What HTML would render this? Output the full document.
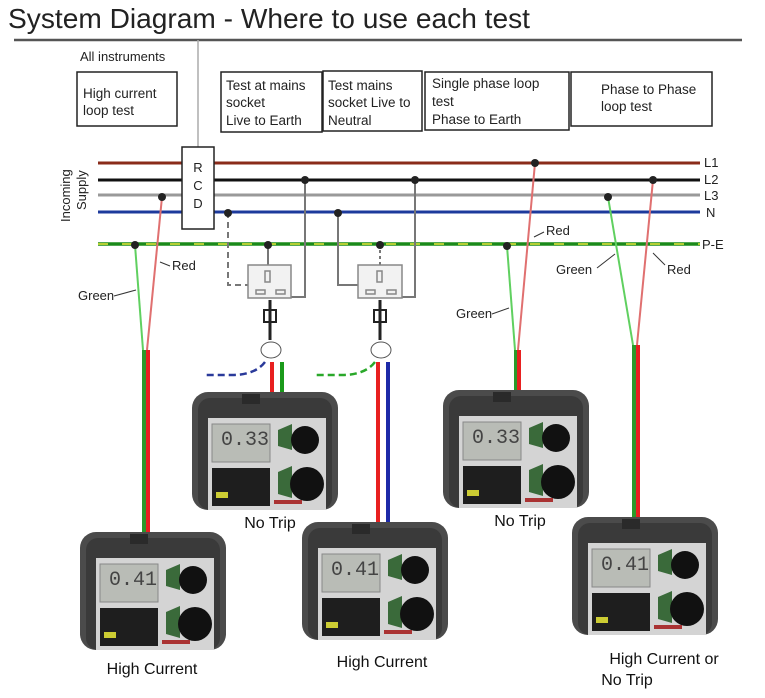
<!DOCTYPE html>
<html><head><meta charset="utf-8"><style>
html,body{margin:0;padding:0;background:#fff;}
svg{display:block;font-family:"Liberation Sans",sans-serif;}
</style></head><body>
<svg width="765" height="698" viewBox="0 0 765 698" xmlns="http://www.w3.org/2000/svg">
<defs>
<g id="dev">
 <rect x="0" y="0" width="146" height="118" rx="16" fill="#4b4b4b"/>
 <rect x="6" y="6" width="134" height="112" rx="12" fill="#3a3a3a"/>
 <rect x="16" y="26" width="118" height="92" fill="#d4d4d4"/>
 <rect x="20" y="32" width="58" height="38" fill="#b9bcb6" stroke="#888"/>
 <rect x="20" y="76" width="58" height="38" fill="#1e1e1e"/>
 <rect x="50" y="2" width="18" height="10" fill="#2a2a2a"/>
 <path d="M86 38 l14 -6 l0 26 l-14 -4z" fill="#3a6a3a"/>
 <circle cx="113" cy="48" r="14" fill="#111"/>
 <path d="M86 80 l14 -6 l0 32 l-14 -4z" fill="#3a6a3a"/>
 <circle cx="115" cy="92" r="17" fill="#111"/>
 <rect x="82" y="108" width="28" height="4" fill="#a33"/>
 <rect x="24" y="100" width="12" height="6" fill="#cc3"/>
</g>
</defs>
<text x="8" y="28" font-size="28" fill="#222" textLength="522" lengthAdjust="spacingAndGlyphs">System Diagram - Where to use each test</text>
<line x1="14" y1="40" x2="742" y2="40" stroke="#555" stroke-width="2.5"/>
<line x1="198" y1="40" x2="198" y2="148" stroke="#aaa" stroke-width="1.5"/>
<text x="80" y="61" font-size="13" fill="#222">All instruments</text>
<g fill="none" stroke="#222" stroke-width="1.5">
<rect x="77" y="72" width="100" height="54"/>
<rect x="221" y="72" width="101" height="60"/>
<rect x="323" y="71" width="99" height="60"/>
<rect x="425" y="72" width="144" height="58"/>
<rect x="571" y="72" width="141" height="54"/>
</g>
<g font-size="13.5" fill="#222">
<text x="83" y="98">High current</text><text x="83" y="115">loop test</text>
<text x="226" y="90">Test at  mains</text><text x="226" y="107">socket</text><text x="226" y="125">Live to Earth</text>
<text x="328" y="90">Test mains</text><text x="328" y="107">socket Live to</text><text x="328" y="125">Neutral</text>
<text x="432" y="88">Single phase loop</text><text x="432" y="106">test</text><text x="432" y="124">Phase to Earth</text>
<text x="601" y="94">Phase to Phase</text><text x="601" y="111">loop test</text>
</g>
<text transform="translate(70,222) rotate(-90)" font-size="13" fill="#222">Incoming</text>
<text transform="translate(86,210) rotate(-90)" font-size="13" fill="#222">Supply</text>
<line x1="98" y1="163" x2="700" y2="163" stroke="#8a2b1a" stroke-width="3"/>
<line x1="98" y1="180" x2="700" y2="180" stroke="#111" stroke-width="3"/>
<line x1="98" y1="195" x2="700" y2="195" stroke="#999" stroke-width="3"/>
<line x1="98" y1="212" x2="700" y2="212" stroke="#1d3a9c" stroke-width="3"/>
<line x1="98" y1="244" x2="700" y2="244" stroke="#1a8a1a" stroke-width="3.5"/>
<line x1="98" y1="244" x2="700" y2="244" stroke="#e8e83a" stroke-width="1.5" stroke-dasharray="10 14"/>
<g font-size="13" fill="#222">
<text x="704" y="167">L1</text><text x="704" y="184">L2</text><text x="704" y="200">L3</text><text x="706" y="217">N</text><text x="702" y="249">P-E</text>
</g>
<rect x="182" y="147" width="32" height="82" fill="#fff" stroke="#222" stroke-width="1.5"/>
<g font-size="13" fill="#222" text-anchor="middle"><text x="198" y="172">R</text><text x="198" y="190">C</text><text x="198" y="208">D</text></g>
<line x1="162" y1="197" x2="147" y2="350" stroke="#e07070" stroke-width="2"/>
<line x1="135" y1="245" x2="143" y2="350" stroke="#60d060" stroke-width="2"/>
<circle cx="162" cy="197" r="4" fill="#222"/><circle cx="135" cy="245" r="4" fill="#222"/>
<rect x="142" y="350" width="4" height="185" fill="#2a9a2a"/><rect x="146" y="350" width="4" height="185" fill="#e82020"/>
<text x="172" y="270" font-size="13" fill="#222">Red</text>
<path d="M170 266 l-10 -4" stroke="#333" fill="none"/>
<text x="78" y="300" font-size="13" fill="#222">Green</text>
<path d="M114 296 l22 -6" stroke="#333" fill="none"/>
<g stroke="#777" stroke-width="2" fill="none">
<path d="M228 212 V285 H248" stroke-dasharray="6 4"/>
<path d="M268 244 V265"/>
<path d="M305 180 V297 H291"/>
<path d="M338 212 V285 H358"/>
<path d="M380 244 V265" stroke-dasharray="3 3"/>
<path d="M415 180 V297 H402"/>
</g>
<g fill="#222"><circle cx="228" cy="213" r="4"/><circle cx="268" cy="245" r="4"/><circle cx="305" cy="180" r="4"/>
<circle cx="338" cy="213" r="4"/><circle cx="380" cy="245" r="4"/><circle cx="415" cy="180" r="4"/></g>
<g fill="#f2f2f2" stroke="#888" stroke-width="1.5">
<rect x="248" y="265" width="43" height="33"/><rect x="358" y="265" width="44" height="33"/>
<rect x="265" y="271" width="5" height="11"/><rect x="256" y="290" width="9" height="4"/><rect x="276" y="290" width="9" height="4"/>
<rect x="377" y="271" width="5" height="11"/><rect x="366" y="290" width="9" height="4"/><rect x="387" y="290" width="9" height="4"/>
</g>
<g>
<rect x="264" y="310" width="12" height="12" fill="#fff" stroke="#222" stroke-width="2"/>
<line x1="270" y1="300" x2="270" y2="340" stroke="#222" stroke-width="3"/>
<ellipse cx="271" cy="350" rx="10" ry="8" fill="#fff" stroke="#555"/>
<rect x="374" y="310" width="12" height="12" fill="#fff" stroke="#222" stroke-width="2"/>
<line x1="380" y1="300" x2="380" y2="340" stroke="#222" stroke-width="3"/>
<ellipse cx="381" cy="350" rx="10" ry="8" fill="#fff" stroke="#555"/>
</g>
<rect x="270" y="362" width="4" height="32" fill="#e82020"/><rect x="280" y="362" width="4" height="32" fill="#1a9a1a"/>
<path d="M265 362 Q255 375 232 375 H206" stroke="#2a3a9a" stroke-width="2.5" fill="none" stroke-dasharray="7 4"/>
<path d="M375 362 Q365 375 342 375 H316" stroke="#2aa82a" stroke-width="2.5" fill="none" stroke-dasharray="7 4"/>
<rect x="376" y="362" width="4" height="162" fill="#e82020"/><rect x="386" y="362" width="4" height="162" fill="#1d2aa8"/>
<line x1="535" y1="163" x2="518" y2="350" stroke="#e07070" stroke-width="2"/>
<line x1="507" y1="246" x2="515" y2="350" stroke="#60d060" stroke-width="2"/>
<circle cx="535" cy="163" r="4" fill="#222"/><circle cx="507" cy="246" r="4" fill="#222"/>
<rect x="514" y="350" width="3" height="42" fill="#2a9a2a"/><rect x="517" y="350" width="4" height="42" fill="#e82020"/>
<text x="546" y="235" font-size="13" fill="#222">Red</text>
<path d="M544 232 l-10 5" stroke="#333" fill="none"/>
<text x="456" y="318" font-size="13" fill="#222">Green</text>
<path d="M492 314 l17 -6" stroke="#333" fill="none"/>
<line x1="608" y1="197" x2="633" y2="345" stroke="#60d060" stroke-width="2"/>
<line x1="653" y1="180" x2="637" y2="345" stroke="#e07070" stroke-width="2"/>
<circle cx="608" cy="197" r="4" fill="#222"/><circle cx="653" cy="180" r="4" fill="#222"/>
<rect x="632" y="345" width="4" height="172" fill="#2a9a2a"/><rect x="636" y="345" width="4" height="172" fill="#e82020"/>
<text x="556" y="274" font-size="13" fill="#222">Green</text>
<path d="M597 268 l18 -14" stroke="#333" fill="none"/>
<text x="667" y="274" font-size="13" fill="#222">Red</text>
<path d="M665 265 l-12 -12" stroke="#333" fill="none"/>
<use href="#dev" x="192" y="392"/>
<use href="#dev" x="443" y="390"/>
<use href="#dev" x="80" y="532"/>
<use href="#dev" x="302" y="522"/>
<use href="#dev" x="572" y="517"/>
<g font-size="20" fill="#444" font-family="Liberation Mono,monospace">
<text x="221" y="445">0.33</text><text x="472" y="443">0.33</text>
<text x="109" y="585">0.41</text><text x="331" y="575">0.41</text><text x="601" y="570">0.41</text>
</g>
<g font-size="16" fill="#111" text-anchor="middle">
<text x="270" y="528">No Trip</text>
<text x="520" y="526">No Trip</text>
<text x="152" y="674">High Current</text>
<text x="382" y="667">High Current</text>
<text x="664" y="664">High Current or</text>
<text x="627" y="685">No Trip</text>
</g>
</svg>
</body></html>
